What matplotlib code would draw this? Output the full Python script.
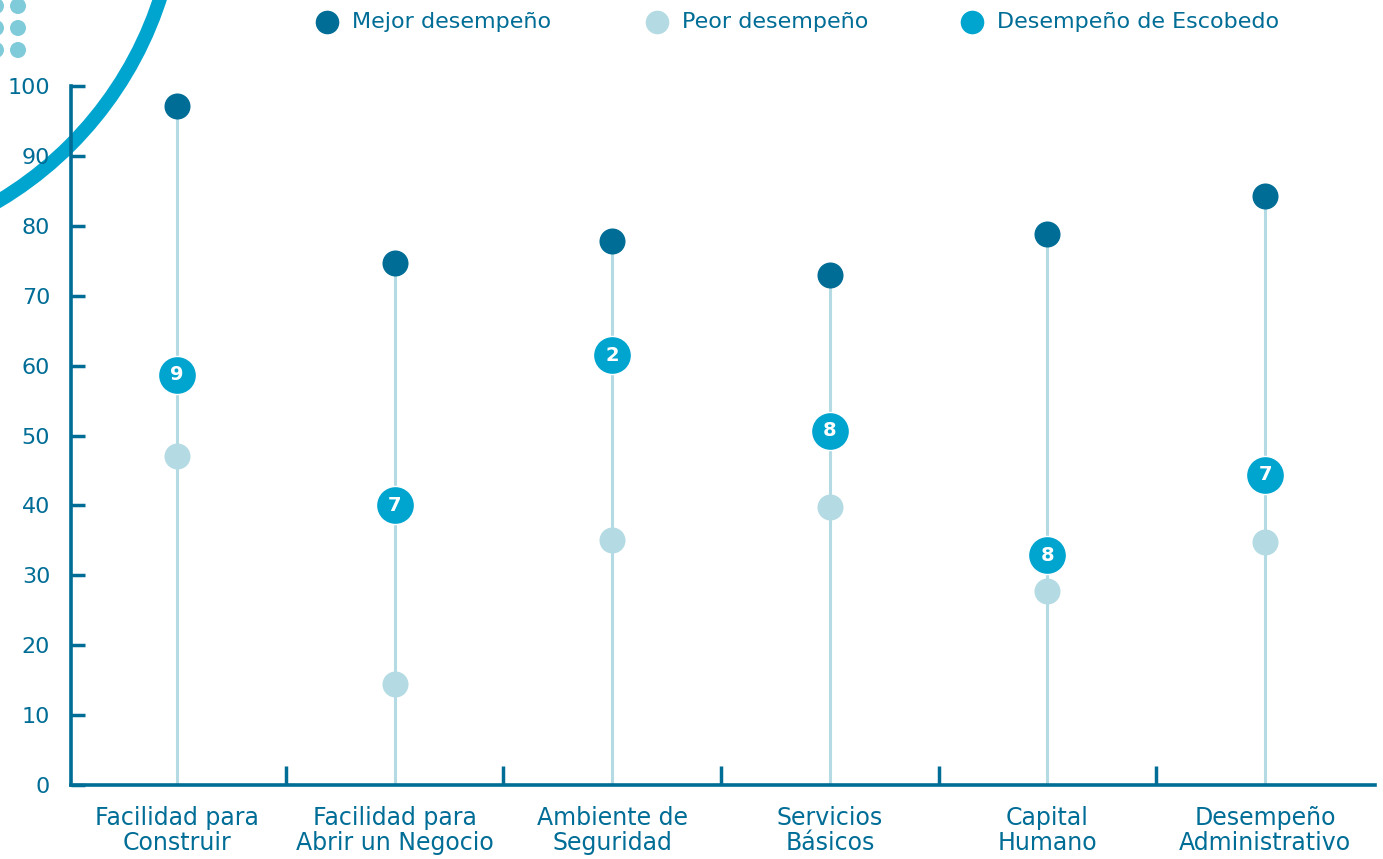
import numpy as np
import matplotlib
matplotlib.use("Agg")
import matplotlib.pyplot as plt
from matplotlib.patches import Circle

plt.rcParams['font.family'] = ['DejaVu Sans']

# data
categorias = ['Facilidad para\nConstruir', 'Facilidad para\nAbrir un Negocio', 'Ambiente de\nSeguridad',
              'Servicios\nBásicos', 'Capital\nHumano', 'Desempeño\nAdministrativo']
mejor = [97.2, 74.7, 77.8, 73.0, 78.8, 84.2]
peor = [47.0, 14.4, 35.1, 39.8, 27.8, 34.8]
escobedo = [58.7, 40.0, 61.5, 50.7, 32.9, 44.4]
posicion = ['9', '7', '2', '8', '8', '7']
series = ['Mejor desempeño', 'Peor desempeño', 'Desempeño de Escobedo']

c_dark = '#006d96'
c_light = '#b4dbe3'
c_mid = '#00a5cf'
c_dots = '#7fcbd9'

fig = plt.figure(figsize=(13.83, 8.59), dpi=100)

# background decoration + legend (pixel coords, y downwards)
bg = fig.add_axes([0, 0, 1, 1], zorder=0)
bg.set_xlim(0, 1383)
bg.set_ylim(859, 0)
bg.axis('off')
bg.add_patch(Circle((-190, -115), 368, fill=False, ec=c_mid, lw=10))
for cx in [-4, 18]:
    for cy in [-16, 6, 28, 50]:
        bg.add_patch(Circle((cx, cy), 8, color=c_dots, lw=0))

for mx, lab, col in zip([327, 657, 972], series, [c_dark, c_light, c_mid]):
    bg.scatter(mx, 22, s=17 ** 2, color=col, lw=0)
    bg.text(mx + 25, 22, lab, fontsize=16, color=c_dark, va='center', ha='left')

ax = fig.add_axes([71 / 1383, 1 - 785 / 859, (1375 - 71) / 1383, (785 - 86) / 859], zorder=1)
ax.patch.set_alpha(0)

x = np.arange(len(categorias))
ax.vlines(x, 0, mejor, color=c_light, lw=2.2, zorder=1)
ax.scatter(x, mejor, s=26 ** 2 * 0.52, color=c_dark, zorder=3, clip_on=False, lw=0)
ax.scatter(x, peor, s=26 ** 2 * 0.52, color=c_light, zorder=3, clip_on=False, lw=0)
ax.scatter(x, escobedo, s=38 ** 2 * 0.52, color=c_mid, ec='white', lw=1, zorder=4, clip_on=False)
for xi, yi, t in zip(x, escobedo, posicion):
    ax.text(xi, yi, t, ha='center', va='center', color='white', fontsize=14, fontweight='bold', zorder=5)

ax.set_xlim(-0.487, 5.505)
ax.set_ylim(0, 100)
ax.set_yticks(np.arange(0, 101, 10))
ax.set_xticks(x)
ax.set_xticklabels(categorias, fontsize=17, color=c_dark, linespacing=1.05)
ax.set_xticks(np.arange(0.5, 5.0, 1.0), minor=True)
ax.tick_params(axis='x', which='major', length=0, pad=15)
ax.tick_params(axis='x', which='minor', direction='in', length=14, width=2.5, color=c_dark)
ax.tick_params(axis='y', direction='in', length=10, width=2.5, color=c_dark,
               labelcolor=c_dark, labelsize=16, pad=15)
for s in ['top', 'right']:
    ax.spines[s].set_visible(False)
for s in ['left', 'bottom']:
    ax.spines[s].set_color(c_dark)
    ax.spines[s].set_linewidth(2.6)

fig.savefig('out.png', dpi=100)
